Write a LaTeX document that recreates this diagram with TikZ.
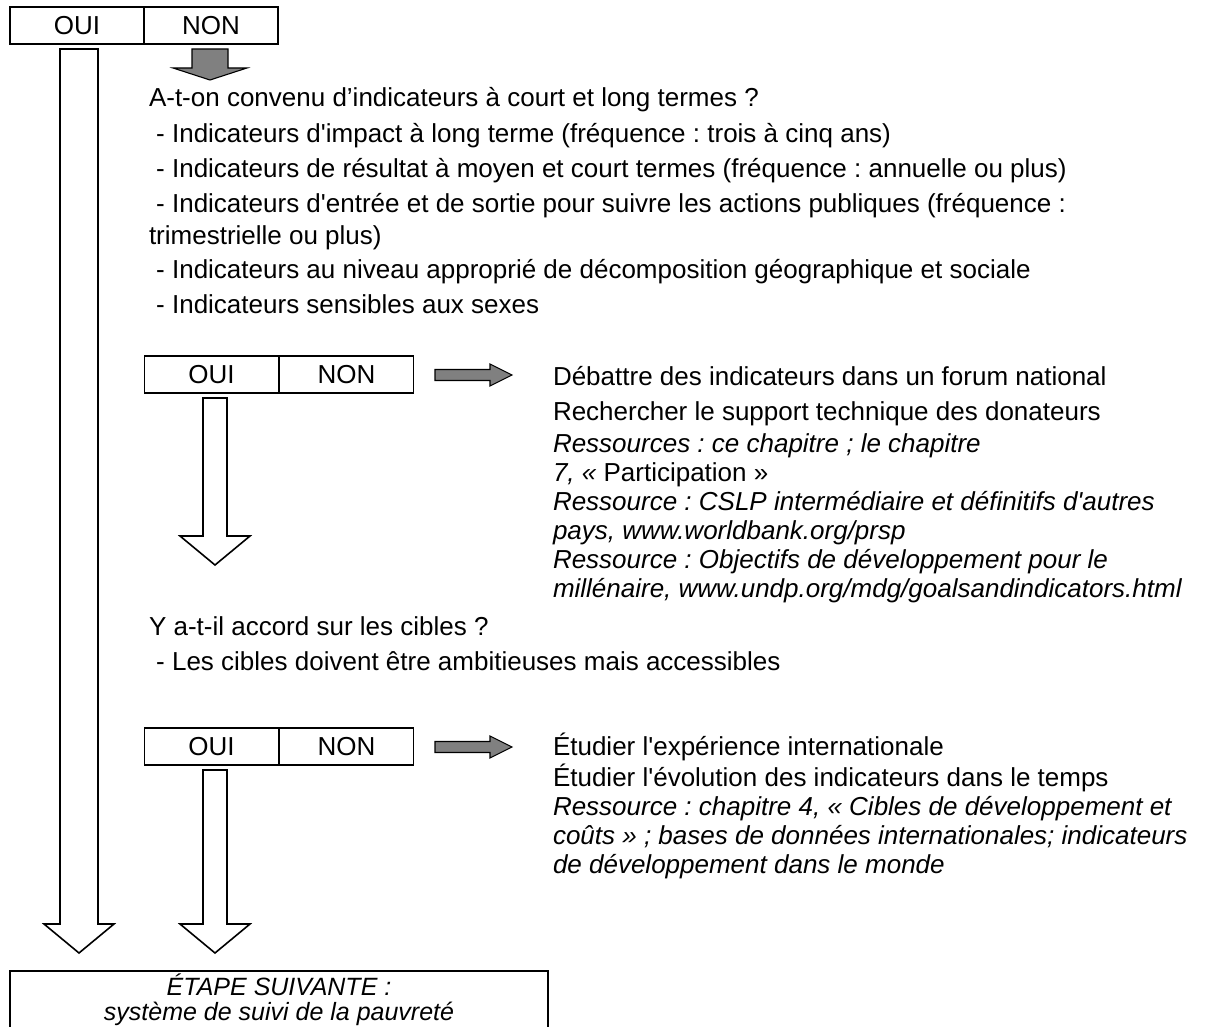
\documentclass[tikz,border=0pt]{standalone}
\usepackage{fontspec}
\setmainfont{Liberation Sans}[Ligatures=TeXOff]
\frenchspacing
\begin{document}
\begin{tikzpicture}[x=1pt,y=-1pt,
  every node/.style={inner sep=0pt,outer sep=0pt},
  txt/.style={anchor=base west,font=\fontsize{26}{30}\selectfont},
  itxt/.style={anchor=base west,font=\fontsize{26}{30}\selectfont\itshape},
  yn/.style={draw,line width=1.8pt,minimum width=134pt,minimum height=37pt,font=\fontsize{26}{30}\selectfont},
  hollow/.style={draw,line width=1.6pt,fill=white,line join=miter},
  greyarrow/.style={draw,line width=1.1pt,fill=black!50,line join=miter}]
\useasboundingbox (0,0) rectangle (1208,1027);
\clip (0,0) rectangle (1208,1027);

% ---------- top yes/no box
\node[yn] (oui0) at (77,25.5) {OUI};
\node[yn] (non0) at (211,25.5) {NON};

% left long hollow arrow
\draw[hollow] (60,49) -- (60,924) -- (44,924) -- (79,953) -- (114,924) -- (98,924) -- (98,49) -- cycle;

% grey down arrow under NON
\draw[greyarrow] (192,49) -- (192,68) -- (173,68) -- (210,80) -- (247,68) -- (228,68) -- (228,49) -- cycle;

% ---------- first question
\node[txt] (q1) at (149,107) {A-t-on convenu d’indicateurs à court et long termes ?};
\node[txt] (q1a) at (149,143) {\ - Indicateurs d'impact à long terme (fréquence : trois à cinq ans)};
\node[txt] (q1b) at (149,178) {\ - Indicateurs de résultat à moyen et court termes (fréquence : annuelle ou plus)};
\node[txt] (q1c) at (149,213) {\ - Indicateurs d'entrée et de sortie pour suivre les actions publiques (fréquence :};
\node[txt] (q1d) at (149,245) {trimestrielle ou plus)};
\node[txt] (q1e) at (149,279) {\ - Indicateurs au niveau approprié de décomposition géographique et sociale};
\node[txt] (q1f) at (149,313) {\ - Indicateurs sensibles aux sexes};

% ---------- box 1
\node[yn] (oui1) at (211.5,374.5) {OUI};
\node[yn] (non1) at (346.5,374.5) {NON};
\draw[hollow] (203,398) -- (203,536) -- (180,536) -- (215,565) -- (250,536) -- (227,536) -- (227,398) -- cycle;
\draw[greyarrow] (435,369.5) -- (490,369.5) -- (490,364) -- (512,375) -- (490,386) -- (490,380.5) -- (435,380.5) -- cycle;

\node[txt]  (r1) at (553,385) {Débattre des indicateurs dans un forum national};
\node[txt]  (r2) at (553,420) {Rechercher le support technique des donateurs};
\node[itxt] (r3) at (553,452) {Ressources : ce chapitre ; le chapitre};
\node[itxt] (r4) at (553,481) {7, « \upshape Participation »};
\node[itxt] (r5) at (553,510) {Ressource : CSLP intermédiaire et définitifs d'autres};
\node[itxt] (r6) at (553,539) {pays, www.worldbank.org/prsp};
\node[itxt] (r7) at (553,568) {Ressource : Objectifs de développement pour le};
\node[itxt] (r8) at (553,597) {millénaire, www.undp.org/mdg/goalsandindicators.html};

% ---------- second question
\node[txt] (q2) at (149,635) {Y a-t-il accord sur les cibles ?};
\node[txt] (q2a) at (149,670) {\ - Les cibles doivent être ambitieuses mais accessibles};

% ---------- box 2
\node[yn] (oui2) at (211.5,746.5) {OUI};
\node[yn] (non2) at (346.5,746.5) {NON};
\draw[hollow] (203,770) -- (203,924) -- (180,924) -- (215,953) -- (250,924) -- (227,924) -- (227,770) -- cycle;
\draw[greyarrow] (435,741.5) -- (490,741.5) -- (490,736) -- (512,747) -- (490,758) -- (490,752.5) -- (435,752.5) -- cycle;

\node[txt]  (s1) at (553,755) {Étudier l'expérience internationale};
\node[txt]  (s2) at (553,786) {Étudier l'évolution des indicateurs dans le temps};
\node[itxt] (s3) at (553,815) {Ressource : chapitre 4, « Cibles de développement et};
\node[itxt] (s4) at (553,844) {coûts » ; bases de données internationales; indicateurs};
\node[itxt] (s5) at (553,873) {de développement dans le monde};

% ---------- bottom box
\node[draw,line width=1.8pt,minimum width=538pt,minimum height=90pt] (next) at (279,1016) {};
\node[anchor=north,align=center,font=\fontsize{25}{25}\selectfont\itshape] (n1) at (279,973.5) {ÉTAPE SUIVANTE :\\système de suivi de la pauvreté};
\end{tikzpicture}
\end{document}
